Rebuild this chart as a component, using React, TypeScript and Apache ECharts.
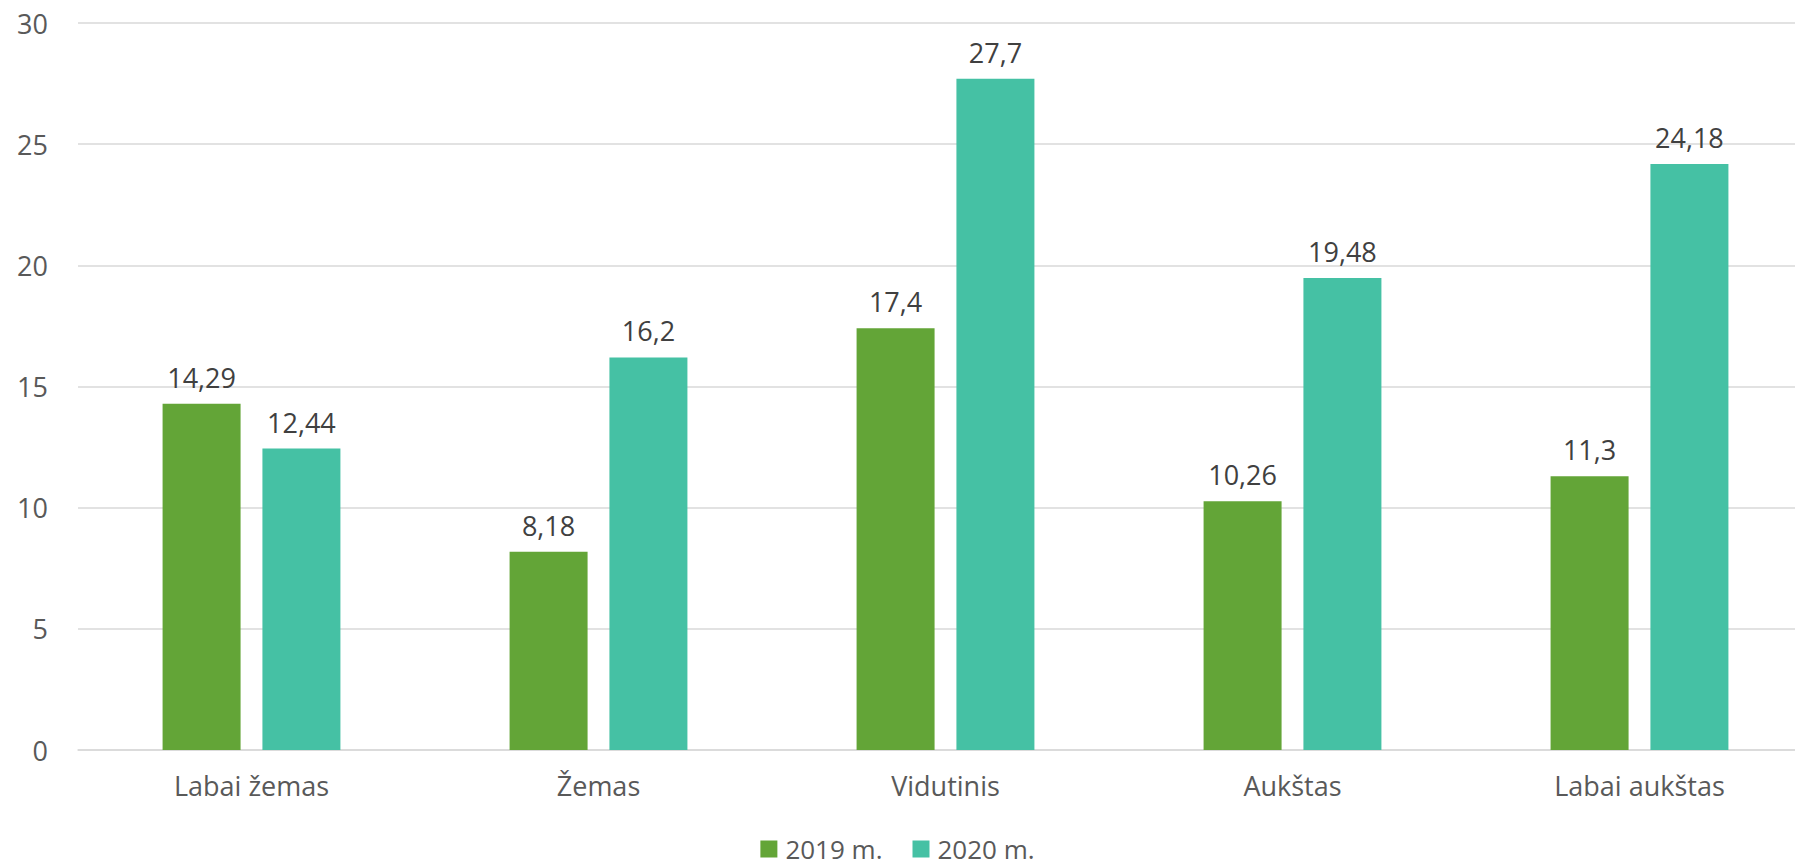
import React, { useEffect, useRef } from "react";
import * as echarts from "echarts";

const categories = ["Labai žemas", "Žemas", "Vidutinis", "Aukštas", "Labai aukštas"];
const series2019 = [14.29, 8.18, 17.4, 10.26, 11.3];
const series2020 = [12.44, 16.2, 27.7, 19.48, 24.18];
const seriesNames = ["2019 m.", "2020 m."];

const FONT = "'Open Sans', 'Noto Sans', sans-serif";

export default function App() {
  const ref = useRef<HTMLDivElement>(null);
  useEffect(() => {
    if (!ref.current) return;
    const chart = echarts.init(ref.current, null, { renderer: "svg" });
    const label = {
      show: true,
      position: "top",
      distance: 13,
      fontFamily: FONT,
      fontSize: 27,
      color: "#404040",
      formatter: (p: any) => String(p.value).replace(".", ","),
    };
    chart.setOption({
      animation: false,
      textStyle: { fontFamily: FONT },
      grid: {
        left: 78,
        width: 1735,
        top: 23,
        bottom: 118,
        containLabel: false,
        outerBoundsMode: "none",
      },
      legend: {
        data: seriesNames,
        top: 836,
        left: "center",
        padding: 0,
        itemWidth: 17,
        itemHeight: 17,
        itemGap: 30,
        icon: "rect",
        textStyle: {
          fontFamily: FONT,
          fontSize: 26,
          lineHeight: 26,
          color: "#595959",
          padding: [0, 0, 0, 3],
        },
      },
      xAxis: {
        type: "category",
        data: categories,
        axisTick: { show: false },
        axisLine: { lineStyle: { color: "#d9d9d9", width: 1.5 } },
        axisLabel: { fontFamily: FONT, fontSize: 27, color: "#595959", margin: 22 },
      },
      yAxis: {
        type: "value",
        min: 0,
        max: 30,
        interval: 5,
        axisLine: { show: false },
        axisTick: { show: false },
        splitLine: { lineStyle: { color: "#d9d9d9", width: 1.5 } },
        axisLabel: { fontFamily: FONT, fontSize: 27, color: "#595959", margin: 30 },
      },
      series: [
        {
          name: seriesNames[0],
          type: "bar",
          data: series2019,
          barWidth: 78,
          barGap: "28%",
          itemStyle: { color: "#63A537" },
          label,
        },
        {
          name: seriesNames[1],
          type: "bar",
          data: series2020,
          barWidth: 78,
          itemStyle: { color: "#45C1A4" },
          label,
        },
      ],
    });
    return () => chart.dispose();
  }, []);
  return (
    <div
      ref={ref}
      style={{ position: "fixed", left: 0, top: 0, width: 1795, height: 868, background: "#fff", overflow: "hidden" }}
    />
  );
}
